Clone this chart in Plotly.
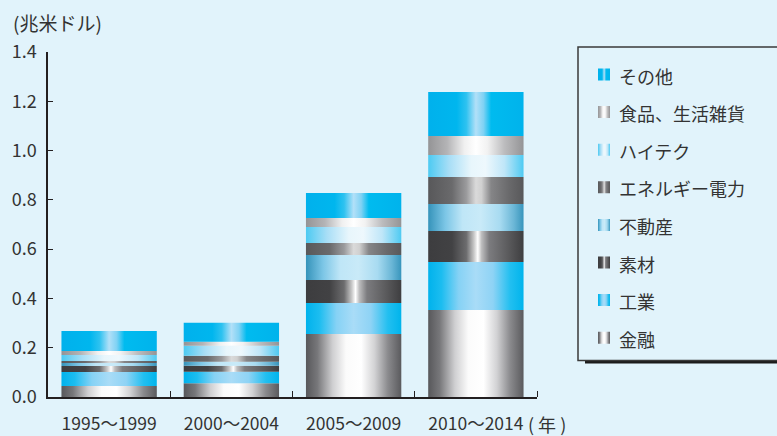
import plotly.graph_objects as go

# ---- data ---------------------------------------------------------------
categories = ["1995〜1999", "2000〜2004", "2005〜2009", "2010〜2014"]

# stacked from the bottom up (unit: trillion USD)
series_names = ["金融", "工業", "素材", "不動産", "エネルギー電力",
                "ハイテク", "食品、生活雑貨", "その他"]
finance     = [0.045, 0.056, 0.256, 0.353]
industry    = [0.056, 0.046, 0.125, 0.195]
materials   = [0.025, 0.025, 0.094, 0.126]
real_estate = [0.012, 0.016, 0.101, 0.109]
energy      = [0.008, 0.024, 0.049, 0.110]
hightech    = [0.024, 0.041, 0.065, 0.089]
food        = [0.017, 0.016, 0.036, 0.077]
other       = [0.081, 0.077, 0.102, 0.179]
series_values = [finance, industry, materials, real_estate, energy,
                 hightech, food, other]

y_ticks = [0.0, 0.2, 0.4, 0.6, 0.8, 1.0, 1.2, 1.4]

# ---- styles -------------------------------------------------------------
# horizontal "cylinder" gradients for each segment type
gradients = {
    "金融": [[0, "#58585b"], [0.12, "#77777a"], [0.28, "#cfcfd1"], [0.42, "#fbfbfb"],
             [0.58, "#ffffff"], [0.72, "#d2d2d4"], [0.86, "#8a8a8d"], [1, "#5a5a5d"]],
    "工業": [[0, "#00b2ec"], [0.14, "#1cbdf0"], [0.32, "#86d2f5"], [0.5, "#a9dcf7"],
             [0.68, "#8ed3f5"], [0.86, "#22bff0"], [1, "#00b4ec"]],
    "素材": [[0, "#3d3d3f"], [0.25, "#424244"], [0.4, "#6c6c6e"], [0.48, "#c8c8c8"],
             [0.52, "#ffffff"], [0.56, "#bdbdbe"], [0.64, "#7c7c7f"], [0.82, "#5e5e60"],
             [1, "#3e3e40"]],
    "不動産": [[0, "#3593ba"], [0.18, "#7cc6e6"], [0.36, "#bfe6f7"], [0.55, "#c9eaf8"],
              [0.75, "#a8dbf1"], [0.9, "#6ab6d6"], [1, "#3895bc"]],
    "エネルギー電力": [[0, "#58585a"], [0.25, "#6a6a6c"], [0.4, "#9a9a9c"], [0.5, "#dadada"],
                 [0.56, "#d0d0d0"], [0.66, "#858587"], [0.85, "#69696b"], [1, "#58585a"]],
    "ハイテク": [[0, "#4ccaf2"], [0.22, "#a8def6"], [0.45, "#e8f6fc"], [0.6, "#eef8fd"],
              [0.8, "#bfe6f8"], [1, "#4ecaf2"]],
    "食品、生活雑貨": [[0, "#949496"], [0.2, "#b4b4b6"], [0.38, "#f0f0f0"], [0.5, "#ffffff"],
                 [0.62, "#f2f2f2"], [0.8, "#bcbcbe"], [1, "#949496"]],
    "その他": [[0, "#00b1ec"], [0.3, "#00b6ee"], [0.4, "#2ec2f0"], [0.5, "#b2e0f8"],
             [0.58, "#7fd2f4"], [0.66, "#00bbef"], [1, "#00b3ec"]],
}

BG = "#e1f3fb"
TEXT = "#333333"
AXIS = "#231f20"
FONT = "Noto Sans CJK JP"

HALF_W = 0.39  # half bar width in category units

# plot area in pixels (for placing paper-referenced decorations)
W, H = 777, 436
L, R, T, B = 48, 240, 52, 39
PW, PH = W - L - R, H - T - B


def px_x(px):
    return (px - L) / PW


def px_y(py):
    return (H - B - py) / PH


def hex_rgb(c):
    c = c.lstrip("#")
    return tuple(int(c[i:i + 2], 16) for i in (0, 2, 4))


def sample(scale, t):
    for (p0, c0), (p1, c1) in zip(scale[:-1], scale[1:]):
        if p0 <= t <= p1:
            f = 0 if p1 == p0 else (t - p0) / (p1 - p0)
            a, b = hex_rgb(c0), hex_rgb(c1)
            r = [round(a[k] + (b[k] - a[k]) * f) for k in range(3)]
            return f"rgb({r[0]},{r[1]},{r[2]})"
    return scale[-1][1]


fig = go.Figure()

# stacked gradient segments
for i, _ in enumerate(categories):
    base = 0.0
    for name, vals in zip(series_names, series_values):
        v = vals[i]
        x0, x1 = i - HALF_W, i + HALF_W
        fig.add_trace(go.Scatter(
            x=[x0, x1, x1, x0, x0],
            y=[base, base, base + v, base + v, base],
            mode="lines", fill="toself",
            line=dict(width=0, color="rgba(0,0,0,0)"),
            fillgradient=dict(type="horizontal", colorscale=gradients[name]),
            name=name, showlegend=False, hoverinfo="skip",
        ))
        base += v

shapes = []
annotations = []

# legend frame with drop shadow along the bottom
shapes.append(dict(type="rect", xref="paper", yref="paper",
                   x0=px_x(585), x1=px_x(800), y0=px_y(363.5), y1=px_y(360.5),
                   fillcolor="#1a1a1a", line=dict(width=0), layer="above"))
shapes.append(dict(type="rect", xref="paper", yref="paper",
                   x0=px_x(578), x1=px_x(800), y0=px_y(360.5), y1=px_y(47),
                   fillcolor=BG, line=dict(color="#3a3a3a", width=1.5), layer="above"))

# legend entries, top to bottom
legend_order = list(reversed(series_names))
for k, name in enumerate(legend_order):
    cy = 74.5 + k * 37.6
    n = 12
    for s in range(n):
        t = (s + 0.5) / n
        shapes.append(dict(type="rect", xref="paper", yref="paper",
                           x0=px_x(598 + s), x1=px_x(599 + s),
                           y0=px_y(cy + 6), y1=px_y(cy - 6),
                           fillcolor=sample(gradients[name], t),
                           line=dict(width=0), layer="above"))
    annotations.append(dict(text=name, xref="paper", yref="paper",
                            x=px_x(617), y=px_y(cy + 1), xanchor="left", yanchor="middle",
                            showarrow=False, font=dict(size=18, color=TEXT, family=FONT)))

# unit label and year suffix
annotations.append(dict(text="(兆米ドル)", xref="paper", yref="paper",
                        x=px_x(11), y=px_y(22), xanchor="left", yanchor="middle",
                        showarrow=False, font=dict(size=19, color=TEXT, family=FONT)))
annotations.append(dict(text="( 年 )", xref="paper", yref="paper",
                        x=px_x(526), y=px_y(424), xanchor="left", yanchor="middle",
                        showarrow=False, font=dict(size=18, color=TEXT, family=FONT)))

fig.update_layout(
    width=W, height=H,
    margin=dict(l=L, r=R, t=T, b=B, pad=0, autoexpand=False),
    paper_bgcolor=BG, plot_bgcolor=BG,
    font=dict(family=FONT, color=TEXT),
    showlegend=False,
    shapes=shapes, annotations=annotations,
    xaxis=dict(
        range=[-0.5, 3.5], tickmode="array", tickvals=list(range(len(categories))),
        ticktext=categories, ticks="", showgrid=False, zeroline=False,
        showline=True, linecolor=AXIS, linewidth=1.5,
        tickfont=dict(size=17.5, color=TEXT, family=FONT),
        ticklabelstandoff=10, automargin=False,
        minor=dict(tickmode="array", tickvals=[0.5, 1.5, 2.5, 3.5],
                   ticks="inside", ticklen=6, tickwidth=1, tickcolor=AXIS),
        fixedrange=True,
    ),
    yaxis=dict(
        range=[0, 1.4], tickmode="array", tickvals=y_ticks,
        ticktext=[f"{v:.1f}" for v in y_ticks],
        ticks="inside", ticklen=5, tickwidth=1, tickcolor=AXIS,
        showgrid=False, zeroline=False,
        showline=True, linecolor=AXIS, linewidth=1.5,
        tickfont=dict(size=18, color=TEXT, family=FONT),
        ticklabelstandoff=6, automargin=False,
        fixedrange=True,
    ),
)

fig.write_html("out.html")
